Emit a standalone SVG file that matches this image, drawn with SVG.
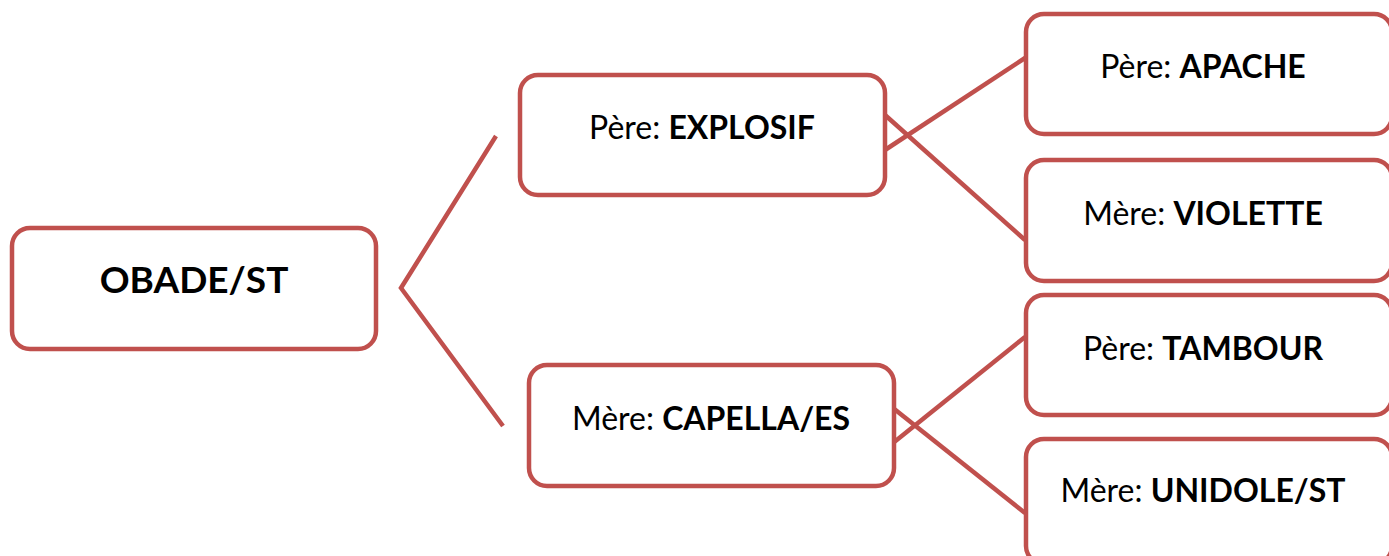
<svg xmlns="http://www.w3.org/2000/svg" width="1389" height="556" viewBox="0 0 1389 556">
<style>
.box{fill:#fff;stroke:#C0504D;stroke-width:4.5}
.ln{stroke:#C0504D;stroke-width:4.5;fill:none}
text{font-family:Lato,"Open Sans","Liberation Sans",sans-serif;font-size:32px;fill:#000;text-anchor:middle}
.b{font-weight:bold}
</style>
<rect width="1389" height="556" fill="#fff"/>
<g id="connectors">
<polyline class="ln" points="496,136 401,288 503,426"/>
<line class="ln" x1="885" y1="115" x2="1025" y2="240"/>
<line class="ln" x1="885" y1="150" x2="1025" y2="58"/>
<line class="ln" x1="893" y1="408" x2="1025" y2="513"/>
<line class="ln" x1="893" y1="443" x2="1025" y2="337"/>
</g>
<g id="n-obade">
<rect class="box" x="12" y="228" width="364" height="121" rx="18"/>
<text x="194" y="293" class="b" style="font-size:37px">OBADE/ST</text>
</g>
<g id="n-explosif">
<rect class="box" x="520" y="75" width="365" height="120" rx="18"/>
<text x="702" y="139">Père: <tspan class="b">EXPLOSIF</tspan></text>
</g>
<g id="n-capella">
<rect class="box" x="529" y="365" width="365" height="121" rx="18"/>
<text x="711" y="430">Mère: <tspan class="b">CAPELLA/ES</tspan></text>
</g>
<g id="n-apache">
<rect class="box" x="1026" y="14" width="366" height="120" rx="18"/>
<text x="1203" y="78">Père: <tspan class="b">APACHE</tspan></text>
</g>
<g id="n-violette">
<rect class="box" x="1026" y="160" width="366" height="121" rx="18"/>
<text x="1203" y="225">Mère: <tspan class="b">VIOLETTE</tspan></text>
</g>
<g id="n-tambour">
<rect class="box" x="1026" y="295" width="366" height="120" rx="18"/>
<text x="1203" y="360">Père: <tspan class="b">TAMBOUR</tspan></text>
</g>
<g id="n-unidole">
<rect class="box" x="1026" y="439" width="366" height="125" rx="18"/>
<text x="1203" y="502">Mère: <tspan class="b">UNIDOLE/ST</tspan></text>
</g>
</svg>
